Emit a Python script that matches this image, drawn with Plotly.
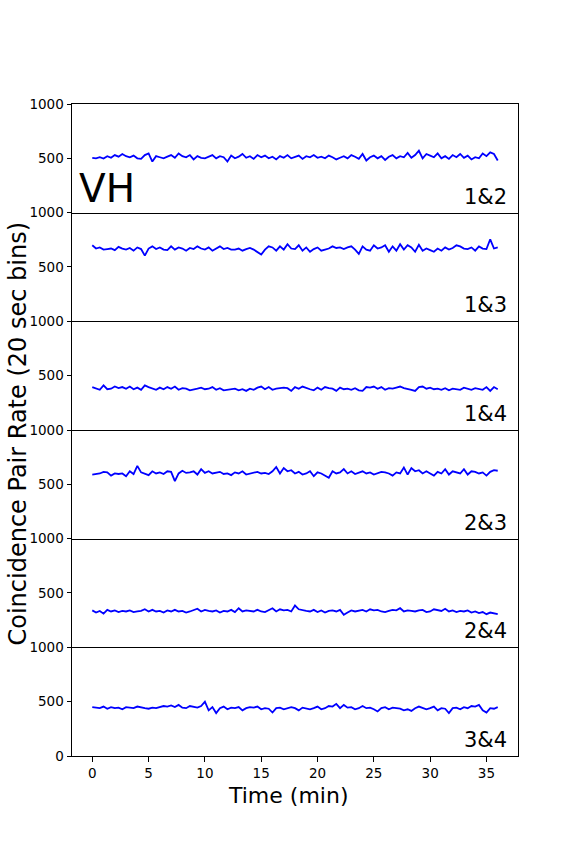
import numpy as np
import plotly.graph_objects as go
from plotly.subplots import make_subplots

bin_seconds = 20
pair_labels = ["1&2", "1&3", "1&4", "2&3", "2&4", "3&4"]

rate_12 = [505, 500, 510, 498, 520, 505, 530, 515, 540, 520, 510, 525, 500, 495, 530, 545, 470, 520, 510, 500,
           515, 530, 505, 545, 520, 510, 530, 490, 520, 505, 500, 515, 530, 500, 520, 510, 470, 525, 500, 515,
           540, 505, 520, 495, 530, 510, 525, 500, 515, 490, 520, 505, 530, 500, 510, 525, 495, 520, 510, 530,
           505, 515, 500, 525, 510, 490, 505, 520, 500, 530, 515, 495, 540, 480, 510, 525, 500, 520, 485, 515,
           530, 500, 520, 510, 550, 505, 530, 570, 500, 540, 525, 510, 545, 500, 520, 495, 530, 510, 540, 505,
           525, 490, 510, 500, 545, 520, 555, 540, 480]
rate_13 = [700, 670, 680, 660, 665, 670, 655, 685, 670, 660, 675, 650, 680, 665, 605, 670, 690, 665, 680, 660,
           655, 690, 660, 680, 670, 650, 675, 665, 690, 670, 660, 680, 650, 670, 690, 665, 675, 660, 660, 670,
           650, 665, 675, 660, 640, 615, 660, 690, 680, 650, 690, 660, 710, 670, 665, 700, 650, 680, 640, 665,
           680, 650, 660, 670, 690, 675, 680, 665, 680, 690, 660, 620, 690, 660, 650, 700, 670, 680, 700, 640,
           690, 650, 710, 660, 700, 680, 640, 705, 650, 670, 655, 640, 670, 650, 680, 660, 675, 700, 690, 670,
           665, 680, 650, 690, 670, 665, 755, 670, 680]
rate_14 = [395, 380, 370, 410, 375, 380, 400, 385, 395, 380, 400, 375, 390, 370, 410, 395, 385, 370, 390, 375,
           395, 380, 400, 370, 385, 380, 365, 370, 380, 390, 375, 380, 395, 370, 385, 365, 370, 375, 380, 365,
           375, 360, 380, 370, 390, 400, 375, 395, 370, 380, 385, 390, 385, 360, 395, 380, 400, 385, 375, 365,
           390, 370, 395, 385, 380, 360, 390, 375, 380, 370, 385, 365, 360, 395, 390, 400, 380, 395, 370, 385,
           380, 390, 400, 385, 380, 370, 360, 395, 400, 380, 390, 375, 380, 370, 385, 365, 380, 375, 370, 390,
           380, 370, 385, 380, 370, 395, 360, 395, 375]
rate_23 = [590, 595, 600, 615, 610, 580, 600, 595, 600, 575, 620, 595, 670, 610, 600, 585, 620, 600, 610, 595,
           620, 615, 530, 600, 625, 605, 610, 620, 590, 640, 605, 620, 600, 610, 615, 595, 600, 585, 610, 600,
           620, 590, 600, 610, 615, 600, 605, 595, 620, 660, 600, 650, 620, 630, 600, 615, 590, 600, 620, 575,
           610, 600, 580, 560, 620, 600, 610, 640, 600, 620, 595, 610, 620, 600, 610, 590, 600, 615, 610, 600,
           580, 610, 600, 655, 590, 650, 620, 630, 600, 620, 600, 580, 615, 600, 640, 590, 620, 610, 600, 640,
           590, 620, 615, 600, 610, 580, 615, 630, 625]
rate_24 = [340, 320, 335, 310, 345, 330, 340, 325, 335, 330, 340, 325, 330, 335, 350, 330, 345, 330, 335, 320,
           340, 330, 345, 330, 335, 320, 330, 340, 355, 330, 345, 335, 330, 340, 320, 335, 330, 345, 325, 360,
           330, 340, 335, 330, 345, 330, 325, 340, 360, 330, 350, 340, 345, 330, 385, 350, 340, 335, 330, 345,
           325, 340, 320, 335, 340, 330, 345, 300, 320, 340, 330, 335, 345, 330, 350, 340, 345, 330, 325, 335,
           345, 340, 360, 330, 340, 335, 330, 340, 345, 325, 330, 350, 340, 335, 355, 330, 340, 325, 335, 330,
           340, 320, 330, 315, 325, 305, 320, 310, 305]
rate_34 = [450, 445, 440, 455, 435, 450, 440, 445, 430, 450, 445, 440, 455, 445, 440, 435, 445, 440, 450, 460,
           455, 465, 450, 470, 445, 440, 460, 450, 445, 460, 500, 420, 450, 395, 440, 455, 430, 445, 440, 450,
           420, 440, 450, 445, 455, 430, 440, 435, 400, 440, 445, 430, 440, 450, 440, 420, 445, 435, 430, 440,
           455, 430, 440, 460, 455, 480, 440, 470, 445, 450, 430, 440, 460, 440, 445, 430, 410, 440, 450, 430,
           445, 440, 435, 420, 430, 415, 440, 455, 445, 430, 440, 455, 420, 440, 435, 395, 440, 445, 430, 450,
           440, 460, 455, 470, 420, 400, 440, 435, 450]

series = [rate_12, rate_13, rate_14, rate_23, rate_24, rate_34]
x_ticks = [0, 5, 10, 15, 20, 25, 30, 35]

FONT = "DejaVu Sans"
W, H = 576, 864
L, R, T, B = 72, 518, 104, 756
n = len(series)

fig = make_subplots(rows=n, cols=1, shared_xaxes=True, vertical_spacing=0)

for i, vals in enumerate(series):
    t = np.arange(len(vals)) * bin_seconds / 60.0
    fig.add_trace(go.Scatter(x=t, y=vals, mode="lines",
                             line=dict(color="#0000ff", width=1.8),
                             showlegend=False, hoverinfo="skip"),
                  row=i + 1, col=1)
    first = (i == 0)
    last = (i == n - 1)
    fig.update_yaxes(range=[0, 1000],
                     tickvals=[0, 500, 1000] if last else [500, 1000],
                     ticks="outside", ticklen=4.5, tickwidth=1, tickcolor="black",
                     showline=True, mirror=True, linecolor="black", linewidth=1,
                     showgrid=False, zeroline=False,
                     tickfont=dict(family=FONT, size=13.5, color="black"),
                     row=i + 1, col=1)
    fig.update_xaxes(range=[-1.8, 37.8], tickvals=x_ticks,
                     ticks="outside" if last else "", ticklen=4.5, tickwidth=1, tickcolor="black",
                     showticklabels=last,
                     showline=True, mirror=True if first else False, linecolor="black", linewidth=1,
                     showgrid=False, zeroline=False,
                     tickfont=dict(family=FONT, size=13.5, color="black"),
                     row=i + 1, col=1)

ph = (B - T) / n
annotations = []
for i, lab in enumerate(pair_labels):
    bottom_px = T + (i + 1) * ph
    y_center = bottom_px - 16
    annotations.append(dict(text=lab, xref="paper", yref="paper",
                            x=(509 - L) / (R - L), y=(B - y_center) / (B - T),
                            xanchor="right", yanchor="middle", showarrow=False,
                            font=dict(family=FONT, size=21, color="black")))

annotations.append(dict(text="VH", xref="paper", yref="paper",
                        x=(77 - L) / (R - L), y=(B - 188.5) / (B - T),
                        xanchor="left", yanchor="middle", showarrow=False,
                        font=dict(family=FONT, size=39, color="black")))
annotations.append(dict(text="Time (min)", xref="paper", yref="paper",
                        x=(288 - L) / (R - L), y=(B - 795) / (B - T),
                        xanchor="center", yanchor="middle", showarrow=False,
                        font=dict(family=FONT, size=22, color="black")))
annotations.append(dict(text="Coincidence Pair Rate (20 sec bins)", xref="paper", yref="paper",
                        x=(17 - L) / (R - L), y=(B - 433.5) / (B - T),
                        xanchor="center", yanchor="middle", textangle=-90, showarrow=False,
                        font=dict(family=FONT, size=24, color="black")))

fig.update_layout(width=W, height=H,
                  margin=dict(l=L, r=W - R, t=T, b=H - B, pad=0),
                  paper_bgcolor="white", plot_bgcolor="white",
                  annotations=annotations,
                  font=dict(family=FONT, color="black"))

fig.write_html("out.html", config={"displayModeBar": False},
               post_script="document.body.style.margin='0px';")
